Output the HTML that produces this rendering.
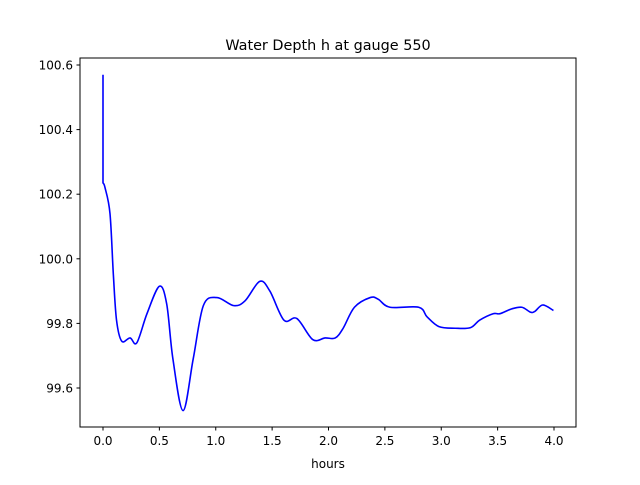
<!DOCTYPE html>
<html><head><meta charset="utf-8"><style>
body{margin:0;background:#fff}
svg text{font-family:"DejaVu Sans","Liberation Sans",sans-serif;fill:#000}
</style></head><body>
<svg id="chart" width="640" height="480" viewBox="0 0 640 480" xmlns="http://www.w3.org/2000/svg">
<rect width="640" height="480" fill="#fff"/>
<text x="328" y="50" font-size="14.4" text-anchor="middle">Water Depth h at gauge 550</text>
<g id="xt"></g>
<g id="yt"></g>
<path id="line" fill="none" stroke="#0000ff" stroke-width="1.6" stroke-linejoin="round"/>
<rect x="80" y="58" width="496" height="369" fill="none" stroke="#000" stroke-width="1"/>
<text x="328" y="468" font-size="12" text-anchor="middle">hours</text>
</svg>
<script>
const hours=[0,0,0.018,0.062,0.092,0.12,0.166,0.24,0.30,0.39,0.50,0.565,0.62,0.71,0.80,0.89,1.01,1.16,1.26,1.39,1.48,1.605,1.72,1.86,1.97,2.06,2.13,2.23,2.37,2.44,2.545,2.80,2.875,2.98,3.125,3.26,3.34,3.46,3.52,3.625,3.715,3.79,3.83,3.90,3.995];
const depth=[100.57,100.235,100.22,100.14,99.95,99.81,99.745,99.755,99.74,99.83,99.915,99.86,99.69,99.53,99.69,99.855,99.88,99.855,99.87,99.93,99.90,99.81,99.815,99.75,99.755,99.755,99.785,99.85,99.88,99.875,99.85,99.85,99.82,99.79,99.785,99.787,99.81,99.83,99.83,99.845,99.85,99.835,99.837,99.857,99.84];
const xTicks=[0,0.5,1,1.5,2,2.5,3,3.5,4];
const xTickLabels=["0.0","0.5","1.0","1.5","2.0","2.5","3.0","3.5","4.0"];
const yTicks=[99.6,99.8,100.0,100.2,100.4,100.6];
const yTickLabels=["99.6","99.8","100.0","100.2","100.4","100.6"];
const X=v=>103+v*112.75;
const Y=v=>65+(100.6-v)*323;
const NS="http://www.w3.org/2000/svg";
const xt=document.getElementById('xt'),yt=document.getElementById('yt');
xTicks.forEach((t,i)=>{
 const l=document.createElementNS(NS,'line');
 
 
 l.setAttribute('x1',X(t));l.setAttribute('x2',X(t));l.setAttribute('y1',427);l.setAttribute('y2',430.5);l.setAttribute('stroke','#000');xt.appendChild(l);
 const tx=document.createElementNS(NS,'text');
 
 
 tx.setAttribute('x',X(t));tx.setAttribute('y',445);tx.setAttribute('font-size','12');tx.setAttribute('text-anchor','middle');tx.textContent=xTickLabels[i];xt.appendChild(tx);
});
yTicks.forEach((t,i)=>{
 const l=document.createElementNS(NS,'line');
 
 
 l.setAttribute('x1',76.5);l.setAttribute('x2',80);l.setAttribute('y1',Y(t));l.setAttribute('y2',Y(t));l.setAttribute('stroke','#000');yt.appendChild(l);
 const tx=document.createElementNS(NS,'text');
 
 
 tx.setAttribute('x',73);tx.setAttribute('y',Y(t)+4.5);tx.setAttribute('font-size','12');tx.setAttribute('text-anchor','end');tx.textContent=yTickLabels[i];yt.appendChild(tx);
});
const P=hours.map((h,i)=>[X(h),Y(depth[i])]);
let d='M'+P[0][0]+','+P[0][1]+' L'+P[1][0]+','+P[1][1];
for(let i=1;i<P.length-1;i++){
 const p0=P[Math.max(i-1,1)],p1=P[i],p2=P[i+1],p3=P[Math.min(i+2,P.length-1)];
 const c1=[p1[0]+(p2[0]-p0[0])/6,p1[1]+(p2[1]-p0[1])/6];
 const c2=[p2[0]-(p3[0]-p1[0])/6,p2[1]-(p3[1]-p1[1])/6];
 d+=' C'+c1[0]+','+c1[1]+' '+c2[0]+','+c2[1]+' '+p2[0]+','+p2[1];
}
document.getElementById('line').setAttribute('d',d);
</script>
</body></html>
